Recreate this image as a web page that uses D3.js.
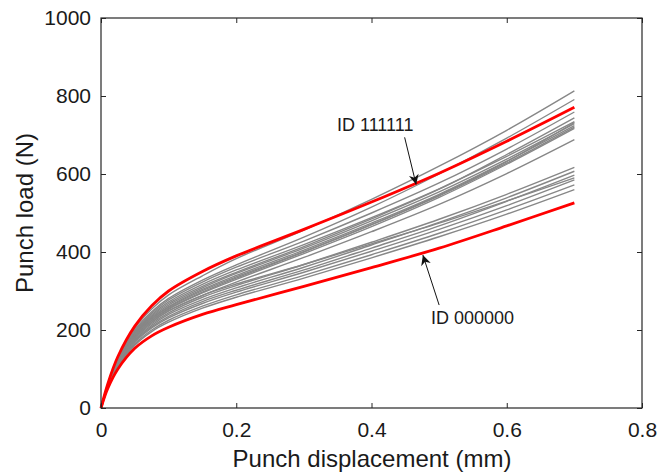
<!DOCTYPE html>
<html>
<head>
<meta charset="utf-8">
<script src="https://cdn.jsdelivr.net/npm/d3@7"></script>
<style>
  html, body { margin: 0; padding: 0; background: #fff; }
  svg { display: block; font-family: "Liberation Sans", Arial, sans-serif; }
</style>
</head>
<body>
<svg id="chart" width="659" height="474"></svg>
<script>
// Punch displacement (mm) at which every load curve is sampled
const displacement = [0, 0.01, 0.025, 0.05, 0.075, 0.1, 0.15, 0.2, 0.3, 0.4, 0.5, 0.6, 0.7];

// Punch load (N) for each design variant
const loadId111111 = [0, 62, 132, 210, 262, 300, 350, 390, 458, 528, 602, 684, 771];
const loadId000000 = [0, 50, 100, 153, 185, 207, 240, 265, 312, 360, 410, 467, 526];

const otherLoads = [
  [0, 61, 129, 205, 254, 290, 339, 383, 456, 535, 620, 712, 813],
  [0, 60, 125, 200, 247, 281, 328, 367, 438, 515, 600, 692, 791],
  [0, 59, 124, 197, 243, 277, 323, 361, 428, 500, 577, 664, 759],
  [0, 58, 121, 192, 236, 268, 312, 348, 414, 485, 561, 650, 744],
  [0, 58, 122, 194, 239, 272, 317, 354, 419, 488, 562, 645, 734],
  [0, 56, 117, 184, 225, 255, 297, 333, 400, 470, 546, 632, 732],
  [0, 57, 120, 190, 233, 264, 308, 345, 410, 480, 554, 638, 729],
  [0, 57, 119, 188, 230, 260, 304, 340, 405, 474, 548, 633, 724],
  [0, 57, 118, 186, 228, 258, 301, 336, 401, 470, 544, 628, 720],
  [0, 56, 116, 183, 224, 253, 295, 330, 396, 465, 540, 625, 717],
  [0, 55, 114, 180, 220, 249, 289, 323, 386, 452, 522, 601, 688],
  [0, 55, 113, 177, 216, 244, 284, 314, 368, 425, 484, 548, 617],
  [0, 54, 111, 174, 212, 240, 278, 308, 361, 418, 476, 539, 607],
  [0, 54, 110, 171, 208, 235, 273, 302, 354, 410, 467, 530, 597],
  [0, 55, 114, 180, 220, 249, 289, 318, 368, 421, 474, 531, 590],
  [0, 53, 108, 168, 205, 231, 268, 297, 348, 402, 458, 519, 585],
  [0, 52, 106, 164, 200, 225, 261, 290, 340, 393, 448, 508, 572],
  [0, 52, 105, 161, 196, 220, 256, 284, 333, 385, 439, 497, 560]
];

const xTicks = [0, 0.2, 0.4, 0.6, 0.8];
const yTicks = [0, 200, 400, 600, 800, 1000];

// Callout labels: text anchor, arrow tail and arrow tip in data units
const callouts = [
  { text: "ID 111111", label: [0.349, 710], tail: [0.449, 694], tip: [0.466, 573] },
  { text: "ID 000000", label: [0.488, 215], tail: [0.500, 264], tip: [0.476, 392] }
];

const svg = d3.select("#chart");
const plotLeft = 101, plotRight = 642, plotTop = 18, plotBottom = 408;

const x = d3.scaleLinear().domain([0, 0.8]).range([plotLeft, plotRight]);
const y = d3.scaleLinear().domain([0, 1000]).range([plotBottom, plotTop]);

const line = d3.line()
  .x((d, i) => x(displacement[i]))
  .y(d => y(d))
  .curve(d3.curveCatmullRom.alpha(0.5));

// Grey curves first, the two highlighted designs on top
svg.append("g")
  .selectAll("path")
  .data(otherLoads)
  .join("path")
  .attr("d", line)
  .attr("fill", "none")
  .attr("stroke", "#878787")
  .attr("stroke-width", 1.4);

svg.append("g")
  .selectAll("path")
  .data([loadId000000, loadId111111])
  .join("path")
  .attr("d", line)
  .attr("fill", "none")
  .attr("stroke", "#ff0000")
  .attr("stroke-width", 2.8)
  .attr("stroke-linejoin", "round");

// Axes with inward ticks on all four sides
const axisColor = "#262626";
const styleAxis = g => {
  g.selectAll(".domain").remove();
  g.selectAll("line").attr("stroke", axisColor);
  g.selectAll("text").attr("fill", "#1a1a1a").style("font-size", "21px")
    .style("font-family", "'Liberation Sans', Arial, sans-serif");
};

svg.append("g")
  .attr("transform", `translate(0,${plotBottom})`)
  .call(d3.axisBottom(x).tickValues(xTicks).tickFormat(d3.format("")).tickSizeInner(-5).tickSizeOuter(0).tickPadding(14))
  .call(styleAxis);

svg.append("g")
  .attr("transform", `translate(0,${plotTop})`)
  .call(d3.axisTop(x).tickValues(xTicks).tickFormat("").tickSizeInner(-5).tickSizeOuter(0))
  .call(styleAxis);

svg.append("g")
  .attr("transform", `translate(${plotLeft},0)`)
  .call(d3.axisLeft(y).tickValues(yTicks).tickFormat(d3.format("")).tickSizeInner(-5).tickSizeOuter(0).tickPadding(10))
  .call(styleAxis);

svg.append("g")
  .attr("transform", `translate(${plotRight},0)`)
  .call(d3.axisRight(y).tickValues(yTicks).tickFormat("").tickSizeInner(-5).tickSizeOuter(0))
  .call(styleAxis);

svg.append("rect")
  .attr("x", plotLeft).attr("y", plotTop)
  .attr("width", plotRight - plotLeft).attr("height", plotBottom - plotTop)
  .attr("fill", "none").attr("stroke", axisColor).attr("stroke-width", 1.2);

// Axis titles
svg.append("text")
  .attr("x", 372).attr("y", 467)
  .attr("text-anchor", "middle")
  .style("font-size", "24px").attr("fill", "#1a1a1a")
  .text("Punch displacement (mm)");

svg.append("text")
  .attr("transform", `translate(33,${(plotTop + plotBottom) / 2}) rotate(-90)`)
  .attr("text-anchor", "middle")
  .style("font-size", "24px").attr("fill", "#1a1a1a")
  .text("Punch load (N)");

// Arrow heads and callouts
svg.append("defs").append("marker")
  .attr("id", "head")
  .attr("viewBox", "0 0 10 10")
  .attr("refX", 10).attr("refY", 5)
  .attr("markerWidth", 12).attr("markerHeight", 10)
  .attr("markerUnits", "userSpaceOnUse")
  .attr("orient", "auto")
  .append("path")
  .attr("d", "M0,0 L10,5 L0,10 L3,5 Z")
  .attr("fill", "#111");

const call = svg.append("g").selectAll("g").data(callouts).join("g");

call.append("line")
  .attr("x1", d => x(d.tail[0])).attr("y1", d => y(d.tail[1]))
  .attr("x2", d => x(d.tip[0])).attr("y2", d => y(d.tip[1]))
  .attr("stroke", "#111").attr("stroke-width", 1)
  .attr("marker-end", "url(#head)");

call.append("text")
  .attr("x", d => x(d.label[0])).attr("y", d => y(d.label[1]))
  .style("font-size", "18px").attr("fill", "#1a1a1a")
  .text(d => d.text);
</script>
</body>
</html>
